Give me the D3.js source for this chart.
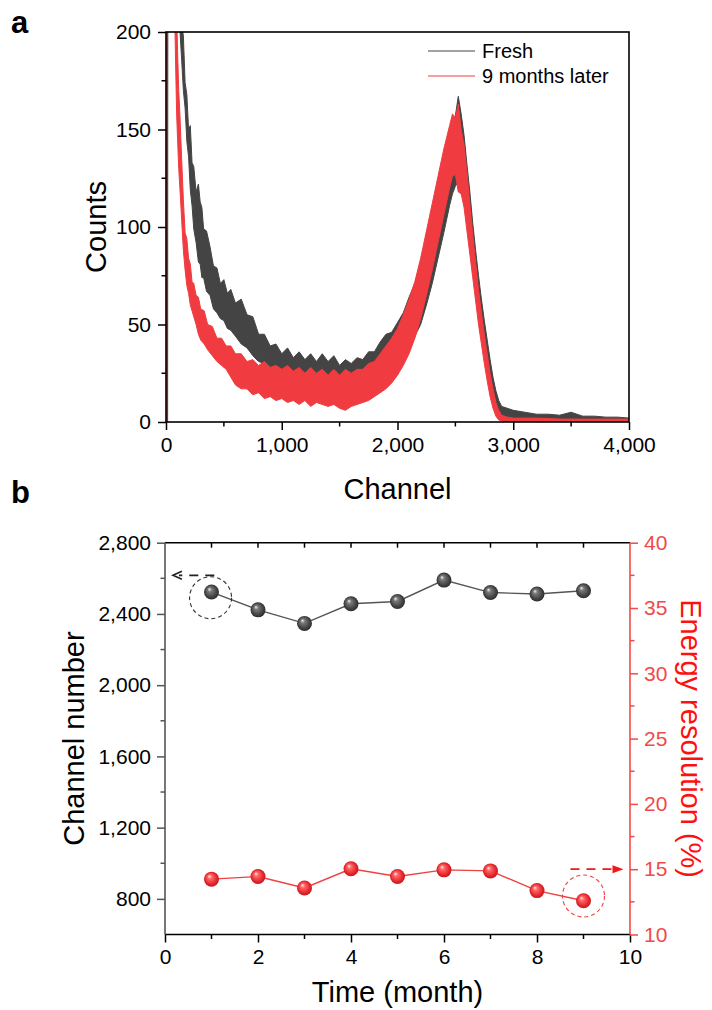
<!DOCTYPE html>
<html>
<head>
<meta charset="utf-8">
<script src="https://cdn.jsdelivr.net/npm/d3@7/dist/d3.min.js"></script>
<style>
  html, body { margin: 0; padding: 0; background: #fff; }
  svg { display: block; font-family: "Liberation Sans", Arial, sans-serif; }
</style>
</head>
<body>
<svg id="chart" width="712" height="1010"></svg>
<script>
// ---------- Panel a: pulse-height spectra (band = low/high envelope of counts) ----------
const freshCh = [0,12,14,16,110,121,135,150,165,180,195,210,225,240,260,280,295,310,325,350,380,410,440,470,500,530,560,600,650,700,750,800,850,900,950,1000,1050,1100,1150,1200,1250,1300,1350,1400,1450,1500,1550,1600,1650,1700,1750,1800,1850,1900,1950,2000,2050,2100,2150,2200,2250,2300,2350,2400,2425,2450,2475,2500,2525,2550,2575,2600,2625,2650,2675,2700,2725,2750,2775,2800,2825,2850,2875,2900,2950,3000,3100,3200,3300,3400,3500,3600,3700,3800,3900,4000];
const freshLo = [0,0,0,265,212,200,186,170,161,144,136,119,111,99,92,82,81,74,74,67,65,58,56,53,52,48,47,44,40,38,34,31,30,27,27,24,25,23,23,21,22,20,20,19,20,18,19,19,20,20,21,21,22,23,26,28,33,37,44,50,60,71,84,97,104,111,117,121,123,121,115,106,95,82,70,58,47,37,28,19,12,7,4,2.5,1.5,1,0.5,0.5,0,0,0,0,0,0,0,0];
const freshHi = [0,0,290,300,250,240,204,198,174,168,150,152,133,131,118,122,113,110,99,98,90,80,79,71,73,66,68,61,63,55,54,45,45,39,40,35,38,33,36,32,35,31,35,31,34,29,32,30,33,32,36,36,41,45,46,51,56,64,71,80,92,104,118,131,139,146,152,157,167,158,147,132,118,102,88,75,63,52,42,32,23,16,11,8,7,6,5,4,4,3.5,5,3,3,2.5,2.5,2];

const laterCh = [0,3,5,7,70,78,85,92,100,110,120,135,150,165,180,195,210,225,240,260,280,300,330,360,400,440,480,520,560,600,650,700,750,800,850,900,950,1000,1050,1100,1150,1200,1250,1300,1350,1400,1450,1500,1550,1600,1650,1700,1750,1800,1850,1900,1950,2000,2050,2100,2150,2200,2250,2300,2350,2400,2425,2450,2475,2500,2525,2550,2575,2600,2625,2650,2675,2700,2725,2750,2775,2800,2825,2850,2875,2900,2950,3000,3200,3400,3600,3800,4000];
const laterLo = [0,0,0,270,212,200,178,158,145,130,120,104,88,78,70,66,60,57,54,50,45,42,40,37,34,31,29,27,23,19,17,17,14,15,12,13,11,12,10,11,9,11,8,10,9,8,9,7,6,8,9,10,11,13,15,17,20,24,29,35,43,53,65,78,92,106,113,120,126,127,118,117,110,98,86,74,62,50,40,30,21,13,7,3,1,0.5,0,0,0,0,0,0,0];
const laterHi = [0,0,290,300,250,240,225,210,190,170,158,135,114,97,94,84,81,72,71,65,64,58,57,50,49,43,43,39,39,35,35,31,32,29,31,28,29,27,29,26,28,25,28,25,27,24,27,24,27,25,27,27,30,31,35,39,43,48,55,63,72,84,98,112,126,140,146,152,158,156,163,150,142,128,112,96,82,68,56,45,35,25,17,10,6,3.5,2.5,2,2,1.5,1.5,1.5,1.5];

const seriesA = [
  { name: "Fresh", ch: freshCh, lo: freshLo, hi: freshHi, color: "#444444" },
  { name: "9 months later", ch: laterCh, lo: laterLo, hi: laterHi, color: "#f03c40" }
];
const xTicksA = [0, 1000, 2000, 3000, 4000];
const yTicksA = [0, 50, 100, 150, 200];

// ---------- Panel b: peak channel and energy resolution over time ----------
const months = [1, 2, 3, 4, 5, 6, 7, 8, 9];
const channelNumber = [2523, 2423, 2347, 2457, 2470, 2590, 2520, 2512, 2530];
const energyResolution = [14.24, 14.44, 13.56, 15.03, 14.44, 14.95, 14.87, 13.36, 12.58];
const xTicksB = [0, 2, 4, 6, 8, 10];
const yTicksBLeft = [800, 1200, 1600, 2000, 2400, 2800];
const yTicksBRight = [10, 15, 20, 25, 30, 35, 40];

const fmt = d3.format(",");
const svg = d3.select("#chart");
const defs = svg.append("defs");
const FONT_TICK = 21, FONT_TITLE = 29;
const RED_AXIS = "#f04a4a";

// ---------------- Panel a ----------------
const ax = { left: 166, right: 629, top: 32, bottom: 422 };
const xA = d3.scaleLinear().domain([0, 4000]).range([ax.left, ax.right]);
const yA = d3.scaleLinear().domain([0, 200]).range([ax.bottom, ax.top]);

defs.append("clipPath").attr("id", "clipA")
  .append("rect").attr("x", ax.left).attr("y", ax.top)
  .attr("width", ax.right - ax.left).attr("height", ax.bottom - ax.top);

const gA = svg.append("g");
const bands = gA.append("g").attr("clip-path", "url(#clipA)");
seriesA.forEach(s => {
  const pts = s.ch.map((c, i) => ({ c, lo: s.lo[i], hi: s.hi[i] }));
  const area = d3.area().x(d => xA(d.c)).y0(d => yA(d.lo)).y1(d => yA(d.hi));
  bands.append("path").datum(pts).attr("d", area)
    .attr("fill", s.color).attr("stroke", s.color).attr("stroke-width", 1)
    .attr("stroke-linejoin", "miter");
});

// axes of panel a
const axisBottomA = d3.axisBottom(xA).tickValues(xTicksA).tickFormat(fmt).tickSizeOuter(0).tickSize(8).tickPadding(7);
const axisLeftA = d3.axisLeft(yA).tickValues(yTicksA).tickSizeOuter(0).tickSize(8).tickPadding(7);
const gxA = gA.append("g").attr("transform", `translate(0,${ax.bottom})`).call(axisBottomA);
const gyA = gA.append("g").attr("transform", `translate(${ax.left},0)`).call(axisLeftA);
// minor ticks
gA.append("g").selectAll("line").data(d3.range(500, 4000, 1000)).join("line")
  .attr("x1", d => xA(d)).attr("x2", d => xA(d)).attr("y1", ax.bottom).attr("y2", ax.bottom + 4.5)
  .attr("stroke", "#000").attr("stroke-width", 1.5);
gA.append("g").selectAll("line").data(d3.range(25, 200, 50)).join("line")
  .attr("x1", ax.left - 4.5).attr("x2", ax.left).attr("y1", d => yA(d)).attr("y2", d => yA(d))
  .attr("stroke", "#000").attr("stroke-width", 1.5);
[gxA, gyA].forEach(g => {
  g.select(".domain").remove();
  g.selectAll(".tick line").attr("stroke", "#000").attr("stroke-width", 1.5);
  g.selectAll(".tick text").attr("font-size", FONT_TICK).attr("fill", "#000")
    .attr("font-family", "Liberation Sans, Arial, sans-serif");
});
gA.append("rect").attr("x", ax.left).attr("y", ax.top)
  .attr("width", ax.right - ax.left).attr("height", ax.bottom - ax.top)
  .attr("fill", "none").attr("stroke", "#000").attr("stroke-width", 1.6);

// legend
const legA = gA.append("g");
seriesA.forEach((s, i) => {
  const y = 51 + i * 25;
  legA.append("line").attr("x1", 428).attr("x2", 475).attr("y1", y).attr("y2", y)
    .attr("stroke", s.color).attr("stroke-width", 1.2);
  legA.append("text").attr("x", 482).attr("y", y + 7).attr("font-size", 20).text(s.name);
});

// titles of panel a
gA.append("text").attr("x", (ax.left + ax.right) / 2).attr("y", 499)
  .attr("text-anchor", "middle").attr("font-size", FONT_TITLE).text("Channel");
gA.append("text").attr("transform", `translate(106,${(ax.top + ax.bottom) / 2}) rotate(-90)`)
  .attr("text-anchor", "middle").attr("font-size", FONT_TITLE).text("Counts");
svg.append("text").attr("x", 11).attr("y", 33).attr("font-size", 31).attr("font-weight", "bold").text("a");

// ---------------- Panel b ----------------
const bx = { left: 165, right: 630, top: 542.7, bottom: 934.5 };
const xB = d3.scaleLinear().domain([0, 10]).range([bx.left, bx.right]);
const yL = d3.scaleLinear().domain([600, 2800]).range([bx.bottom, bx.top]);
const yR = d3.scaleLinear().domain([10, 40]).range([bx.bottom, bx.top]);
const gB = svg.append("g");

// sphere gradients
function sphere(id, hi, mid, base, edge) {
  const g = defs.append("radialGradient").attr("id", id)
    .attr("cx", "50%").attr("cy", "50%").attr("r", "55%").attr("fx", "35%").attr("fy", "30%");
  g.append("stop").attr("offset", "0%").attr("stop-color", hi);
  g.append("stop").attr("offset", "25%").attr("stop-color", mid);
  g.append("stop").attr("offset", "70%").attr("stop-color", base);
  g.append("stop").attr("offset", "100%").attr("stop-color", edge);
}
sphere("ballGray", "#f4f4f4", "#7a7a7a", "#444", "#262626");
sphere("ballRed", "#fff0f0", "#ff6a6a", "#e8282e", "#b8151a");

// axes of panel b
const axisBottomB = d3.axisBottom(xB).tickValues(xTicksB).tickSizeOuter(0).tickSize(8).tickPadding(7);
const axisLeftB = d3.axisLeft(yL).tickValues(yTicksBLeft).tickFormat(fmt).tickSizeOuter(0).tickSize(8).tickPadding(6);
const axisRightB = d3.axisRight(yR).tickValues(yTicksBRight).tickSizeOuter(0).tickSize(8).tickPadding(6);
const gxB = gB.append("g").attr("transform", `translate(0,${bx.bottom})`).call(axisBottomB);
const gyL = gB.append("g").attr("transform", `translate(${bx.left},0)`).call(axisLeftB);
const gyR = gB.append("g").attr("transform", `translate(${bx.right},0)`).call(axisRightB);
[gxB, gyL, gyR].forEach(g => {
  g.select(".domain").remove();
  g.selectAll(".tick line").attr("stroke-width", 1.5);
  g.selectAll(".tick text").attr("font-size", FONT_TICK)
    .attr("font-family", "Liberation Sans, Arial, sans-serif");
});
gxB.selectAll(".tick line").attr("stroke", "#000");
gxB.selectAll(".tick text").attr("fill", "#000");
gyL.selectAll(".tick line").attr("stroke", "#555");
gyL.selectAll(".tick text").attr("fill", "#000");
gyR.selectAll(".tick line").attr("stroke", RED_AXIS);
gyR.selectAll(".tick text").attr("fill", RED_AXIS);

// minor ticks of panel b
gB.append("g").selectAll("line").data(d3.range(1, 10, 2)).join("line")
  .attr("x1", d => xB(d)).attr("x2", d => xB(d)).attr("y1", bx.bottom).attr("y2", bx.bottom + 4.5)
  .attr("stroke", "#000").attr("stroke-width", 1.5);
gB.append("g").selectAll("line").data(d3.range(1, 10, 1)).join("line")
  .attr("x1", d => xB(d)).attr("x2", d => xB(d)).attr("y1", bx.top).attr("y2", bx.top + 5)
  .attr("stroke", "#000").attr("stroke-width", 1.5);
gB.append("g").selectAll("line").data(d3.range(1000, 2800, 400)).join("line")
  .attr("x1", bx.left - 4.5).attr("x2", bx.left).attr("y1", d => yL(d)).attr("y2", d => yL(d))
  .attr("stroke", "#555").attr("stroke-width", 1.5);
gB.append("g").selectAll("line").data(d3.range(12.5, 40, 5)).join("line")
  .attr("x1", bx.right).attr("x2", bx.right + 4.5).attr("y1", d => yR(d)).attr("y2", d => yR(d))
  .attr("stroke", RED_AXIS).attr("stroke-width", 1.5);

// frame lines
gB.append("line").attr("x1", bx.left).attr("x2", bx.right).attr("y1", bx.top).attr("y2", bx.top)
  .attr("stroke", "#000").attr("stroke-width", 1.6);
gB.append("line").attr("x1", bx.left).attr("x2", bx.right).attr("y1", bx.bottom).attr("y2", bx.bottom)
  .attr("stroke", "#000").attr("stroke-width", 1.6);
gB.append("line").attr("x1", bx.left).attr("x2", bx.left).attr("y1", bx.top).attr("y2", bx.bottom)
  .attr("stroke", "#555").attr("stroke-width", 1.6);
gB.append("line").attr("x1", bx.right).attr("x2", bx.right).attr("y1", bx.top).attr("y2", bx.bottom)
  .attr("stroke", RED_AXIS).attr("stroke-width", 1.6);

// series lines and markers
const lineL = d3.line().x((d, i) => xB(months[i])).y(d => yL(d));
const lineR = d3.line().x((d, i) => xB(months[i])).y(d => yR(d));
gB.append("path").datum(channelNumber).attr("d", lineL)
  .attr("fill", "none").attr("stroke", "#555").attr("stroke-width", 1.4);
gB.append("path").datum(energyResolution).attr("d", lineR)
  .attr("fill", "none").attr("stroke", "#f04040").attr("stroke-width", 1.4);
gB.append("g").selectAll("circle").data(channelNumber).join("circle")
  .attr("cx", (d, i) => xB(months[i])).attr("cy", d => yL(d)).attr("r", 7.5)
  .attr("fill", "url(#ballGray)");
gB.append("g").selectAll("circle").data(energyResolution).join("circle")
  .attr("cx", (d, i) => xB(months[i])).attr("cy", d => yR(d)).attr("r", 7.5)
  .attr("fill", "url(#ballRed)");

// dashed circles marking which axis each series uses
gB.append("circle").attr("cx", xB(0.98)).attr("cy", yL(2491)).attr("r", 21)
  .attr("fill", "none").attr("stroke", "#333").attr("stroke-width", 1.1).attr("stroke-dasharray", "4,3");
gB.append("circle").attr("cx", xB(9.0)).attr("cy", yR(12.95)).attr("r", 21)
  .attr("fill", "none").attr("stroke", "#f04040").attr("stroke-width", 1.1).attr("stroke-dasharray", "4,3");

// arrow to the left axis
const ay = yL(2617);
gB.append("line").attr("x1", xB(1.06)).attr("x2", xB(0.3)).attr("y1", ay).attr("y2", ay)
  .attr("stroke", "#222").attr("stroke-width", 1.8).attr("stroke-dasharray", "9,7");
gB.append("path")
  .attr("d", `M${xB(0.17) + 9},${ay - 4} L${xB(0.17)},${ay} L${xB(0.17) + 9},${ay + 4}`)
  .attr("fill", "none").attr("stroke", "#222").attr("stroke-width", 1.6);
// arrow to the right axis
const ry = yR(15);
gB.append("line").attr("x1", xB(8.72)).attr("x2", xB(9.66)).attr("y1", ry).attr("y2", ry)
  .attr("stroke", "#f01818").attr("stroke-width", 1.8).attr("stroke-dasharray", "9,7");
gB.append("path")
  .attr("d", `M${xB(9.86)},${ry} L${xB(9.86) - 11},${ry - 4} L${xB(9.86) - 11},${ry + 4} Z`)
  .attr("fill", "#f01818");

// titles of panel b
gB.append("text").attr("x", (bx.left + bx.right) / 2).attr("y", 1002)
  .attr("text-anchor", "middle").attr("font-size", FONT_TITLE).text("Time (month)");
gB.append("text").attr("transform", `translate(84,${(bx.top + bx.bottom) / 2}) rotate(-90)`)
  .attr("text-anchor", "middle").attr("font-size", FONT_TITLE).text("Channel number");
gB.append("text").attr("transform", `translate(681,${(bx.top + bx.bottom) / 2}) rotate(90)`)
  .attr("text-anchor", "middle").attr("font-size", FONT_TITLE).attr("fill", "#ff1010")
  .text("Energy resolution (%)");
svg.append("text").attr("x", 11).attr("y", 503).attr("font-size", 31).attr("font-weight", "bold").text("b");
</script>
</body>
</html>
